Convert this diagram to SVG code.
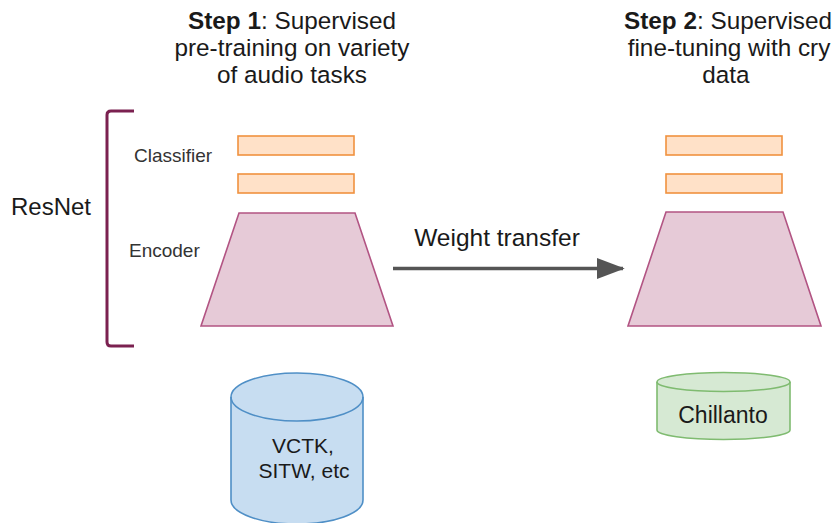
<svg xmlns="http://www.w3.org/2000/svg" width="837" height="523" viewBox="0 0 837 523">
  <style>
    text { font-family: "Liberation Sans", Arial, sans-serif; fill: #1a1a1a; }
    .head { font-size: 24.3px; text-anchor: middle; }
    .lbl { font-size: 19px; fill: #333; }
    .layer { fill: #ffe1c8; stroke: #f0923f; stroke-width: 1.6; }
    .enc { fill: #e6cad7; stroke: #b25483; stroke-width: 1.6; }
    .db-blue { fill: #c7ddf1; stroke: #4f8fc6; stroke-width: 1.6; }
    .db-green { fill: #d6e9d3; stroke: #7fbb70; stroke-width: 1.6; }
  </style>
  <defs>
    <marker id="arrowhead" markerWidth="8" markerHeight="6" refX="7.5" refY="3" orient="auto" markerUnits="strokeWidth">
      <path d="M0,0 L8,3 L0,6 Z" fill="#555"/>
    </marker>
  </defs>
  <rect width="837" height="523" fill="#ffffff"/>

  <!-- headings -->
  <g id="step1-title">
    <text class="head" x="292" y="29"><tspan font-weight="bold">Step 1</tspan>: Supervised</text>
    <text class="head" x="292" y="56">pre-training on variety</text>
    <text class="head" x="292" y="83">of audio tasks</text>
  </g>
  <g id="step2-title">
    <text class="head" x="728" y="29"><tspan font-weight="bold">Step 2</tspan>: Supervised</text>
    <text class="head" x="729" y="56">fine-tuning with cry</text>
    <text class="head" x="726" y="83">data</text>
  </g>

  <!-- ResNet bracket -->
  <g id="resnet">
    <text x="11" y="215" font-size="24">ResNet</text>
    <path d="M134,111 L111,111 Q107,111 107,115 L107,342 Q107,346 111,346 L134,346" fill="none" stroke="#7b2150" stroke-width="3"/>
  </g>

  <!-- step 1 model -->
  <g id="model-pretrain">
    <text class="lbl" x="134" y="162">Classifier</text>
    <text class="lbl" x="129" y="257">Encoder</text>
    <rect class="layer" x="238" y="136" width="116" height="19"/>
    <rect class="layer" x="238" y="174" width="116" height="19"/>
    <polygon class="enc" points="239,213 355,213 393,326 201,326"/>
  </g>

  <!-- step 2 model -->
  <g id="model-finetune">
    <rect class="layer" x="666" y="136" width="116" height="19"/>
    <rect class="layer" x="666" y="174" width="116" height="19"/>
    <polygon class="enc" points="666,212 783,212 821,326 628,326"/>
  </g>

  <!-- datasets -->
  <g id="db-pretrain">
    <path class="db-blue" d="M231,397 A66,24 0 0 1 363,397 L363,500 A66,24 0 0 1 231,500 Z"/>
    <path d="M231,397 A66,24 0 0 0 363,397" fill="none" stroke="#4f8fc6" stroke-width="1.6"/>
    <text x="303" y="453" font-size="21" text-anchor="middle">VCTK,</text>
    <text x="304" y="478" font-size="21" text-anchor="middle">SITW, etc</text>
  </g>
  <g id="db-finetune">
    <path class="db-green" d="M657,382 A66.5,9.5 0 0 1 790,382 L790,430 A66.5,9.5 0 0 1 657,430 Z"/>
    <path d="M657,382 A66.5,9.5 0 0 0 790,382" fill="none" stroke="#7fbb70" stroke-width="1.6"/>
    <text x="723" y="423" font-size="23" text-anchor="middle">Chillanto</text>
  </g>

  <!-- connectors -->
  <g id="connectors">
    <line x1="393" y1="268.5" x2="623" y2="268.5" stroke="#555" stroke-width="3.5" marker-end="url(#arrowhead)"/>
    <text x="497" y="246" font-size="24.5" text-anchor="middle">Weight transfer</text>
  </g>
</svg>
